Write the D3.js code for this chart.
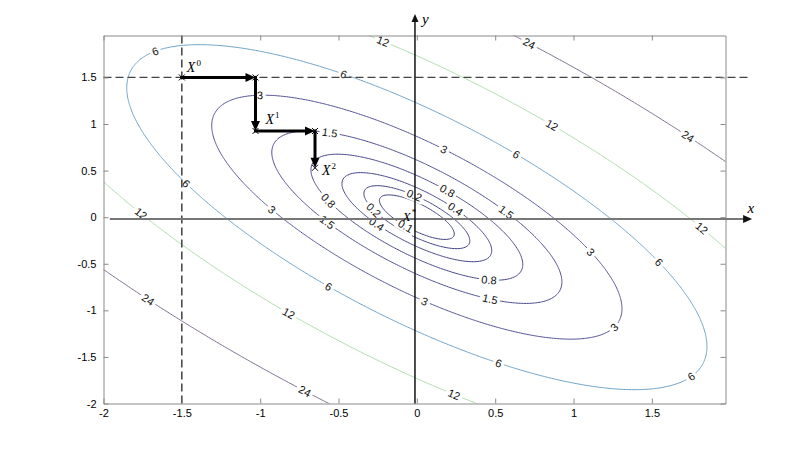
<!DOCTYPE html>
<html><head><meta charset="utf-8">
<script src="https://cdn.jsdelivr.net/npm/d3@7"></script>
<style>body{margin:0;background:#fff}svg{display:block}</style>
</head><body>
<svg id="chart" width="801" height="454"></svg>
<script>
// ---------- data ----------
const levels = [0.1, 0.2, 0.4, 0.8, 1.5, 3, 6, 12, 24];
const levelColors = ["#3e3e80", "#3e3e80", "#404086", "#43438a", "#47478e", "#4f4f94", "#6a9fc6", "#acd9ac", "#776787"];
const quadCoeffs = [4, 6, 4];            // f(x,y) = a x^2 + b x y + c y^2
const xTicks = [-2, -1.5, -1, -0.5, 0, 0.5, 1, 1.5];
const yTicks = [-2, -1.5, -1, -0.5, 0, 0.5, 1, 1.5];
const labelLevels = [0.1, 0.2, 0.2, 0.4, 0.4, 0.8, 0.8, 0.8, 1.5, 1.5, 1.5, 1.5,
  3, 3, 3, 3, 3, 3, 6, 6, 6, 6, 6, 6, 6, 6, 12, 12, 12, 12, 12, 12, 24, 24, 24, 24];
const labelX = [-0.087, -0.013, -0.289, 0.232, -0.279, 0.179, -0.598, 0.466, -0.534, 0.54, -0.608, 0.476,
  -0.99, 0.168, -0.927, 0.051, 1.093, 1.274, -1.66, -0.459, -1.5, 0.625, -0.576, 1.518, 0.529, 1.762,
  -0.215, 0.853, -1.8, -0.831, 1.784, 0.242, 0.71, 1.724, -1.724, -0.725];
const labelY = [-0.116, 0.189, 0.08, 0.081, -0.081, 0.26, 0.189, -0.681, 0.871, 0.052, -0.056, -0.896,
  1.295, 0.709, 0.081, -0.925, -0.368, -1.194, 1.77, 1.51, 0.368, 0.663, -0.763, -0.476, -1.589, -1.722,
  1.877, 0.978, 0.04, -1.05, -0.116, -1.937, 1.848, 0.864, -0.889, -1.894];
const descentX = [-1.5, -1.03, -1.03, -0.65, -0.65];
const descentY = [1.5, 1.5, 0.925, 0.925, 0.53];
const pointNames = ["0", "1", "2", "*"];
const pointX = [-1.5, -1.03, -0.65, 0];
const pointY = [1.5, 0.925, 0.53, 0];
const guideX = -1.5, guideY = 1.5;

// ---------- setup ----------
const W = 801, H = 454;
const svg = d3.select("#chart");
const x = d3.scaleLinear().domain([-2, 1.97]).range([103.5, 725.5]);
const y = d3.scaleLinear().domain([-2, 1.95]).range([403.5, 35.5]);
const [qa, qb, qc] = quadCoeffs;
const f = (u, v) => qa * u * u + qb * u * v + qc * v * v;
const defs = svg.append("defs");

defs.append("clipPath").attr("id", "plotclip").append("rect")
  .attr("x", x(-2)).attr("y", y(1.95)).attr("width", x(1.97) - x(-2)).attr("height", y(-2) - y(1.95));

// ---------- contours ----------
const g0 = -2.3, step = 0.01, n = 461;
const values = new Float64Array(n * n);
for (let j = 0; j < n; j++) for (let i = 0; i < n; i++) values[j * n + i] = f(g0 + i * step, g0 + j * step);
const contours = d3.contours().size([n, n]).thresholds(levels)(values);
const proj = d3.geoTransform({ point(gx, gy) { this.stream.point(x(g0 + (gx - 0.5) * step), y(g0 + (gy - 0.5) * step)); } });
const path = d3.geoPath(proj);

const mask = defs.append("mask").attr("id", "lblmask").attr("maskUnits", "userSpaceOnUse")
  .attr("x", 0).attr("y", 0).attr("width", W).attr("height", H);
mask.append("rect").attr("x", 0).attr("y", 0).attr("width", W).attr("height", H).attr("fill", "#fff");

const cg = svg.append("g").attr("clip-path", "url(#plotclip)");
cg.append("g").attr("mask", "url(#lblmask)")
  .selectAll("path").data(contours).join("path")
  .attr("d", path).attr("fill", "none")
  .attr("stroke", (d, i) => levelColors[levels.indexOf(d.value)])
  .attr("stroke-width", 1);

// ---------- contour labels ----------
const kx = x(1) - x(0), ky = y(0) - y(1);
const lg = svg.append("g");
labelLevels.forEach((L, k) => {
  const s = Math.sqrt(L / f(labelX[k], labelY[k]));
  const X = labelX[k] * s, Y = labelY[k] * s;
  const gx = 2 * qa * X + qb * Y, gy = qb * X + 2 * qc * Y;
  let ang = Math.atan2(-gx * ky, -gy * kx) * 180 / Math.PI;
  if (ang > 90) ang -= 180;
  if (ang < -90) ang += 180;
  const tr = `translate(${x(X)},${y(Y)}) rotate(${ang})`;
  const t = lg.append("text").attr("transform", tr)
    .attr("text-anchor", "middle").attr("dy", "0.36em")
    .style("font", "11px 'Liberation Sans', Arial, sans-serif").attr("fill", "#111")
    .text(String(L));
  const w = t.node().getComputedTextLength();
  mask.append("rect").attr("transform", tr).attr("x", -w / 2 - 2.5).attr("y", -6).attr("width", w + 5).attr("height", 12).attr("fill", "#000");
});

// ---------- dashed guides ----------
svg.append("line").attr("x1", x(-2)).attr("x2", x(2.13)).attr("y1", y(guideY)).attr("y2", y(guideY))
  .attr("stroke", "#444").attr("stroke-width", 1.4).attr("stroke-dasharray", "8,4");
svg.append("line").attr("x1", x(guideX)).attr("x2", x(guideX)).attr("y1", y(-2)).attr("y2", y(1.95))
  .attr("stroke", "#333").attr("stroke-width", 1.4).attr("stroke-dasharray", "8,4");

// ---------- box axes ----------
const fmt = d => String(d);
function styleAxis(g) {
  g.select(".domain").attr("stroke", "#8a8a8a");
  g.selectAll(".tick line").attr("stroke", "#8a8a8a");
  g.selectAll(".tick text").attr("fill", "#000").style("font", "11px 'Liberation Sans', Arial, sans-serif");
}
svg.append("g").attr("transform", `translate(0,${y(-2)})`)
  .call(d3.axisBottom(x).tickValues(xTicks).tickSize(-5).tickSizeOuter(0).tickPadding(6).tickFormat(fmt)).call(styleAxis);
svg.append("g").attr("transform", `translate(0,${y(1.95)})`)
  .call(d3.axisTop(x).tickValues(xTicks).tickSize(-5).tickSizeOuter(0).tickFormat("")).call(styleAxis);
svg.append("g").attr("transform", `translate(${x(-2)},0)`)
  .call(d3.axisLeft(y).tickValues(yTicks).tickSize(-5).tickSizeOuter(0).tickPadding(7).tickFormat(fmt)).call(styleAxis);
svg.append("g").attr("transform", `translate(${x(1.97)},0)`)
  .call(d3.axisRight(y).tickValues(yTicks).tickSize(-5).tickSizeOuter(0).tickFormat("")).call(styleAxis);

// ---------- coordinate axis arrows ----------
function head(tx, ty, dx, dy, len, hw, color) {
  const m = Math.hypot(dx, dy), ux = dx / m, uy = dy / m;
  const bx = tx - ux * len, by = ty - uy * len;
  svg.append("path").attr("d", `M${tx},${ty}L${bx - uy * hw},${by + ux * hw}L${bx + uy * hw},${by - ux * hw}Z`).attr("fill", color);
}
const axY = y(-0.02), axX = x(-0.012);
svg.append("line").attr("x1", x(-1.96)).attr("x2", x(2.09)).attr("y1", axY).attr("y2", axY)
  .attr("stroke", "#777").attr("stroke-width", 2);
head(x(2.14), axY, 1, 0, 9, 4, "#111");
svg.append("line").attr("x1", axX).attr("x2", axX).attr("y1", y(-2)).attr("y2", y(2.1))
  .attr("stroke", "#111").attr("stroke-width", 1.5);
head(axX, y(2.18), 0, -1, 8, 3.5, "#111");
svg.append("text").attr("x", x(2.11)).attr("y", axY - 6)
  .style("font", "italic 15px 'Liberation Serif', 'Times New Roman', serif").text("x");
svg.append("text").attr("x", axX + 7).attr("y", y(2.1) + 2)
  .style("font", "italic 15px 'Liberation Serif', 'Times New Roman', serif").text("y");

// ---------- descent path ----------
for (let k = 0; k < descentX.length - 1; k++) {
  const x1 = x(descentX[k]), y1 = y(descentY[k]), x2 = x(descentX[k + 1]), y2 = y(descentY[k + 1]);
  const dx = x2 - x1, dy = y2 - y1, m = Math.hypot(dx, dy);
  svg.append("line").attr("x1", x1).attr("y1", y1).attr("x2", x2 - dx / m * 7).attr("y2", y2 - dy / m * 7)
    .attr("stroke", "#000").attr("stroke-width", 3).attr("stroke-linecap", "square");
  head(x2, y2, dx, dy, 10, 4.5, "#000");
}
// small markers
descentX.forEach((dxv, k) => {
  const cx = x(dxv), cy = y(descentY[k]);
  svg.append("path").attr("d", `M${cx - 3},${cy - 3}L${cx + 3},${cy + 3}M${cx - 3},${cy + 3}L${cx + 3},${cy - 3}`)
    .attr("stroke", "#000").attr("stroke-width", 1);
});

// ---------- point labels ----------
const off = [[5, -5], [10, -7], [7, 7], [-14, 4]];
pointNames.forEach((nm, k) => {
  const t = svg.append("text").attr("x", x(pointX[k]) + off[k][0]).attr("y", y(pointY[k]) + off[k][1])
    .style("font", (k === 3 ? "13px" : "14px") + " 'Liberation Serif', 'Times New Roman', serif");
  t.append("tspan").style("font-style", "italic").text("X");
  t.append("tspan").attr("dy", -6).attr("dx", 1).style("font-size", "9px").text(nm);
});
</script>
</body></html>
